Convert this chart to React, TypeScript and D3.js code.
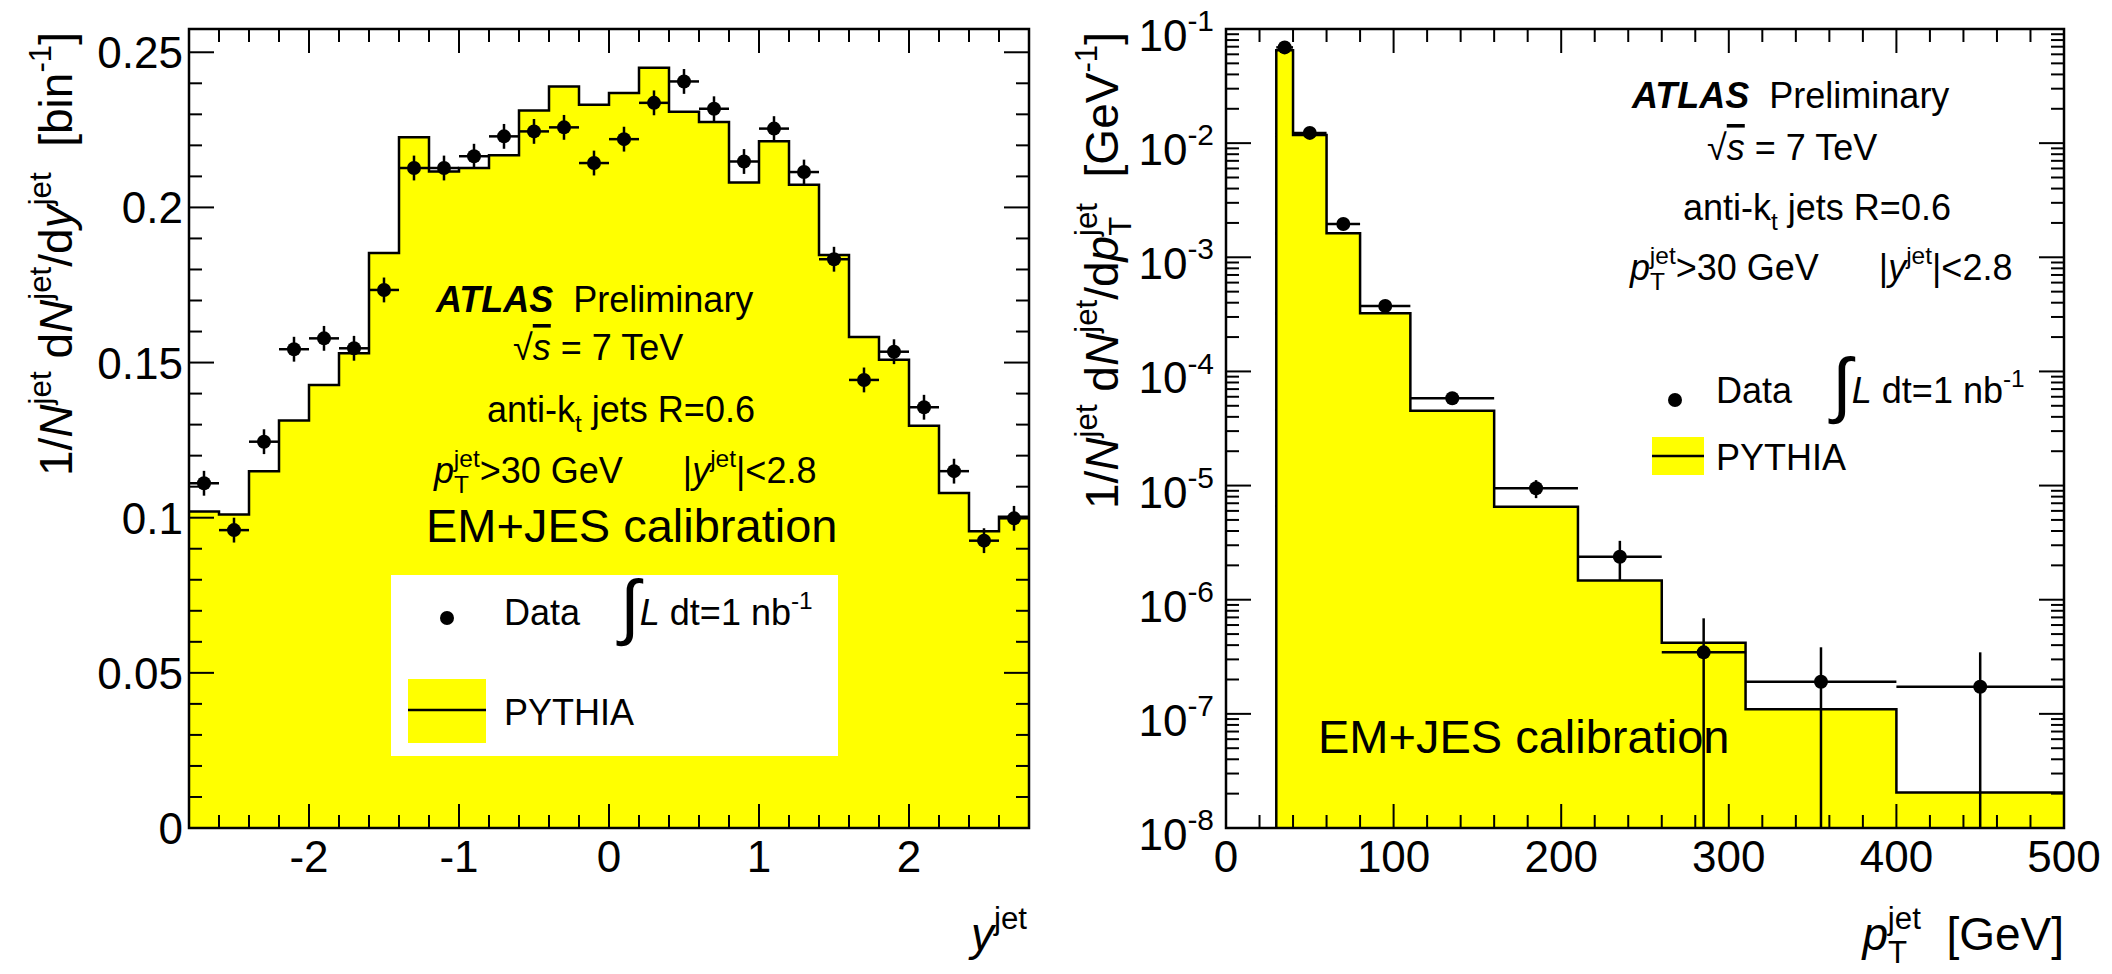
import React from "react";
import * as d3 from "d3";

// ---- left panel: rapidity distribution ----
const yEdges = [-2.8, -2.6, -2.4, -2.2, -2.0, -1.8, -1.6, -1.4, -1.2, -1.0, -0.8, -0.6, -0.4, -0.2, 0, 0.2, 0.4, 0.6, 0.8, 1.0, 1.2, 1.4, 1.6, 1.8, 2.0, 2.2, 2.4, 2.6, 2.8];
const yPythia = [0.102, 0.101, 0.115, 0.1313, 0.1428, 0.153, 0.1853, 0.2226, 0.2116, 0.2127, 0.2168, 0.2312, 0.239, 0.2331, 0.2369, 0.245, 0.2308, 0.2275, 0.208, 0.2213, 0.2073, 0.1847, 0.1582, 0.1509, 0.1296, 0.108, 0.0956, 0.1003];
const yData = [0.1111, 0.096, 0.1245, 0.1543, 0.1578, 0.1546, 0.1734, 0.2127, 0.2127, 0.2165, 0.2229, 0.2245, 0.2258, 0.2143, 0.222, 0.2337, 0.2406, 0.2318, 0.2148, 0.2254, 0.2114, 0.1833, 0.1444, 0.1535, 0.1356, 0.115, 0.0926, 0.0998];
const yDataErr = [0.004, 0.004, 0.004, 0.004, 0.004, 0.004, 0.004, 0.004, 0.004, 0.004, 0.004, 0.004, 0.004, 0.004, 0.004, 0.004, 0.004, 0.004, 0.004, 0.004, 0.004, 0.004, 0.004, 0.004, 0.004, 0.004, 0.004, 0.004];
const yDomain = [-2.8, 2.8];
const yValDomain = [0, 0.2575];

// ---- right panel: pT distribution ----
const ptEdges = [30, 40, 60, 80, 110, 160, 210, 260, 310, 400, 500];
const ptPythia = [0.065, 0.0118, 0.00162, 3.23e-4, 4.53e-5, 6.53e-6, 1.47e-6, 4.2e-7, 1.1e-7, 2.05e-8];
const ptData = [0.069, 0.0123, 0.00196, 3.74e-4, 5.82e-5, 9.46e-6, 2.38e-6, 3.46e-7, 1.91e-7, 1.73e-7];
const ptDataErr = [3e-4, 1e-4, 2e-5, 6e-6, 3e-6, 1.7e-6, 0.9e-6, 3.41e-7, 1.92e-7, 1.73e-7];
const ptDomain = [0, 500];
const ptValDomain = [1e-8, 1e-1];

const FONT = "'Liberation Sans', Arial, Helvetica, sans-serif";
const TOP = 29;
const BOTTOM = 828;
const YELLOW = "#ffff00";

type Seg = { t: string; k?: "sup" | "sub"; i?: boolean; b?: boolean; dx?: number; s?: number; off?: number; over?: boolean };

function Rich({ x, y, fs, segs, anchor = "start", rotate = false }: { x: number; y: number; fs: number; segs: Seg[]; anchor?: string; rotate?: boolean }) {
  let cur = 0;
  const spans = segs.map((sg, idx) => {
    const target = sg.k === "sup" ? -0.45 * fs : sg.k === "sub" ? 0.28 * fs : (sg.off ?? 0) * fs;
    const dy = target - cur;
    cur = target;
    const size = sg.k ? fs * 0.68 : fs * (sg.s ?? 1);
    return (
      <tspan
        key={idx}
        dy={dy}
        dx={sg.dx ? sg.dx * fs : undefined}
        fontSize={size}
        fontStyle={sg.i ? "italic" : "normal"}
        fontWeight={sg.b ? "bold" : "normal"}
        style={sg.over ? { textDecoration: "overline" } : undefined}
      >
        {sg.t}
      </tspan>
    );
  });
  return (
    <text
      x={x}
      y={y}
      fontSize={fs}
      fontFamily={FONT}
      textAnchor={anchor}
      fill="#000"
      style={{ whiteSpace: "pre" }}
      transform={rotate ? `rotate(-90 ${x} ${y})` : undefined}
    >
      {spans}
    </text>
  );
}

function Hist({ edges, vals, x, y, base, startFromBase }: any) {
  const pts: [number, number][] = vals.map((v: number, i: number) => [edges[i], v]);
  pts.push([edges[edges.length - 1], vals[vals.length - 1]]);
  const area = d3.area<[number, number]>()
    .x((d) => x(d[0]))
    .y0(y(base))
    .y1((d) => y(d[1]))
    .curve(d3.curveStepAfter);
  const linePts = startFromBase ? [[edges[0], base] as [number, number], ...pts] : pts;
  const line = d3.line<[number, number]>()
    .x((d) => x(d[0]))
    .y((d) => y(d[1]))
    .curve(d3.curveStepAfter);
  return (
    <g>
      <path d={area(pts) || ""} fill={YELLOW} stroke="none" />
      <path d={line(linePts) || ""} fill="none" stroke="#000" strokeWidth={2.5} />
    </g>
  );
}

function Points({ edges, vals, errs, x, y, floor }: any) {
  return (
    <g stroke="#000" strokeWidth={2.5}>
      {vals.map((v: number, i: number) => {
        const cx = x((edges[i] + edges[i + 1]) / 2);
        const lo = Math.max(v - errs[i], floor);
        return (
          <g key={i}>
            <line x1={x(edges[i])} x2={x(edges[i + 1])} y1={y(v)} y2={y(v)} />
            <line x1={cx} x2={cx} y1={y(lo)} y2={y(v + errs[i])} />
            <circle cx={cx} cy={y(v)} r={7} fill="#000" stroke="none" />
          </g>
        );
      })}
    </g>
  );
}

function Frame({ x, y, xMajor, xMinor, yMajor, yMinor }: any) {
  const [x0, x1] = x.range();
  const isMaj = (arr: number[], v: number) => arr.some((m) => Math.abs(m - v) <= 1e-6 * Math.max(1e-12, Math.abs(m)) || Math.abs(m - v) < 1e-12);
  return (
    <g stroke="#000">
      {xMinor.filter((v: number) => !isMaj(xMajor, v)).map((v: number, i: number) => (
        <g key={"xm" + i} strokeWidth={2}>
          <line x1={x(v)} x2={x(v)} y1={BOTTOM} y2={BOTTOM - 13} />
          <line x1={x(v)} x2={x(v)} y1={TOP} y2={TOP + 13} />
        </g>
      ))}
      {xMajor.map((v: number, i: number) => (
        <g key={"xM" + i} strokeWidth={2}>
          <line x1={x(v)} x2={x(v)} y1={BOTTOM} y2={BOTTOM - 24} />
          <line x1={x(v)} x2={x(v)} y1={TOP} y2={TOP + 24} />
        </g>
      ))}
      {yMinor.filter((v: number) => !isMaj(yMajor, v)).map((v: number, i: number) => (
        <g key={"ym" + i} strokeWidth={2}>
          <line x1={x0} x2={x0 + 13} y1={y(v)} y2={y(v)} />
          <line x1={x1} x2={x1 - 13} y1={y(v)} y2={y(v)} />
        </g>
      ))}
      {yMajor.map((v: number, i: number) => (
        <g key={"yM" + i} strokeWidth={2}>
          <line x1={x0} x2={x0 + 25} y1={y(v)} y2={y(v)} />
          <line x1={x1} x2={x1 - 25} y1={y(v)} y2={y(v)} />
        </g>
      ))}
      <rect x={x0} y={TOP} width={x1 - x0} height={BOTTOM - TOP} fill="none" strokeWidth={2.5} />
    </g>
  );
}

function Legend({ dotX, dotY, textX, dataBase, boxX, boxW, boxY, boxH, lineY, pyBase }: any) {
  return (
    <g>
      <circle cx={dotX} cy={dotY} r={7} fill="#000" />
      <Rich x={textX} y={dataBase} fs={36} segs={[
        { t: "Data    " },
        { t: "\u222B", s: 2.0, off: 0.16 },
        { t: "L", i: true, off: 0 },
        { t: " dt=1 nb" },
        { t: "-1", k: "sup" },
      ]} />
      <rect x={boxX} y={boxY} width={boxW} height={boxH} fill={YELLOW} />
      <line x1={boxX} x2={boxX + boxW} y1={lineY} y2={lineY} stroke="#000" strokeWidth={2.5} />
      <Rich x={textX} y={pyBase} fs={36} segs={[{ t: "PYTHIA" }]} />
    </g>
  );
}

function Labels({ x0, b }: { x0: number; b: number[] }) {
  return (
    <g>
      <Rich x={x0} y={b[0]} fs={36} segs={[{ t: "ATLAS", b: true, i: true }, { t: "  Preliminary" }]} />
      <Rich x={x0 + b[4]} y={b[1]} fs={36} segs={[{ t: "\u221A" }, { t: "s", i: true, over: true }, { t: " = 7 TeV" }]} />
      <Rich x={x0 + b[5]} y={b[2]} fs={36} segs={[{ t: "anti-k" }, { t: "t", k: "sub" }, { t: " jets R=0.6" }]} />
      <Rich x={x0 - 2} y={b[3]} fs={36} segs={[
        { t: "p", i: true },
        { t: "T", k: "sub" },
        { t: "jet", k: "sup", dx: -0.42 },
        { t: ">30 GeV      |" },
        { t: "y", i: true },
        { t: "jet", k: "sup" },
        { t: "|<2.8" },
      ]} />
    </g>
  );
}

const fmtTick = (v: number) => d3.format("~g")(v).replace("\u2212", "-");

export default function App() {
  const xL = d3.scaleLinear().domain(yDomain).range([189, 1029]);
  const yL = d3.scaleLinear().domain(yValDomain).range([BOTTOM, TOP]);
  const xR = d3.scaleLinear().domain(ptDomain).range([1226, 2064]);
  const yR = d3.scaleLog().domain(ptValDomain).range([BOTTOM, TOP]);

  const logTicks = yR.ticks();
  const logMajor = logTicks.filter((v) => Math.abs(Math.log10(v) - Math.round(Math.log10(v))) < 1e-9);

  return (
    <svg width={2112} height={974} style={{ position: "absolute", left: 0, top: 0, background: "#fff" }} fontFamily={FONT}>
      <rect x={0} y={0} width={2112} height={974} fill="#fff" />

      {/* left panel */}
      <Hist edges={yEdges} vals={yPythia} x={xL} y={yL} base={0} />
      <Frame x={xL} y={yL} xMajor={xL.ticks(5)} xMinor={xL.ticks(28)} yMajor={yL.ticks(5)} yMinor={yL.ticks(25)} />
      <Points edges={yEdges} vals={yData} errs={yDataErr} x={xL} y={yL} floor={0} />
      <rect x={391} y={575} width={447} height={181} fill="#fff" />
      <Legend dotX={447} dotY={618} textX={504} dataBase={625} boxX={408} boxW={78} boxY={679} boxH={64} lineY={710} pyBase={725} />
      <Labels x0={436} b={[312, 360, 422, 483, 77, 51]} />
      <Rich x={426} y={542} fs={47} segs={[{ t: "EM+JES calibration" }]} />
      {yL.ticks(5).map((v, i) => (
        <text key={"ly" + i} x={183} y={yL(v) + 16} fontSize={44} textAnchor="end" fontFamily={FONT}>{fmtTick(v)}</text>
      ))}
      {xL.ticks(5).map((v, i) => (
        <text key={"lx" + i} x={xL(v)} y={872} fontSize={44} textAnchor="middle" fontFamily={FONT}>{fmtTick(v)}</text>
      ))}
      <Rich x={72} y={32} fs={46} anchor="end" rotate segs={[
        { t: "1/" },
        { t: "N", i: true },
        { t: "jet", k: "sup" },
        { t: " d" },
        { t: "N", i: true },
        { t: "jet", k: "sup" },
        { t: "/d" },
        { t: "y", i: true },
        { t: "jet", k: "sup" },
        { t: "  [bin" },
        { t: "-1", k: "sup" },
        { t: "]" },
      ]} />
      <Rich x={1027} y={950} fs={46} anchor="end" segs={[{ t: "y", i: true }, { t: "jet", k: "sup" }]} />

      {/* right panel */}
      <Hist edges={ptEdges} vals={ptPythia} x={xR} y={yR} base={1e-8} startFromBase />
      <Frame x={xR} y={yR} xMajor={xR.ticks(5)} xMinor={xR.ticks(25)} yMajor={logMajor} yMinor={logTicks} />
      <Points edges={ptEdges} vals={ptData} errs={ptDataErr} x={xR} y={yR} floor={1e-8} />
      <Legend dotX={1675} dotY={400} textX={1716} dataBase={403} boxX={1652} boxW={52} boxY={437} boxH={38} lineY={456} pyBase={470} />
      <Labels x0={1632} b={[108, 160, 220, 280, 75, 51]} />
      <Rich x={1318} y={753} fs={47} segs={[{ t: "EM+JES calibration" }]} />
      {logMajor.map((v, i) => (
        <Rich key={"ry" + i} x={1214} y={yR(v) + 22} fs={44} anchor="end" segs={[{ t: "10" }, { t: String(Math.round(Math.log10(v))), k: "sup" }]} />
      ))}
      {xR.ticks(5).map((v, i) => (
        <text key={"rx" + i} x={xR(v)} y={872} fontSize={44} textAnchor="middle" fontFamily={FONT}>{fmtTick(v)}</text>
      ))}
      <Rich x={1118} y={32} fs={46} anchor="end" rotate segs={[
        { t: "1/" },
        { t: "N", i: true },
        { t: "jet", k: "sup" },
        { t: " d" },
        { t: "N", i: true },
        { t: "jet", k: "sup" },
        { t: "/d" },
        { t: "p", i: true },
        { t: "T", k: "sub" },
        { t: "jet", k: "sup", dx: -0.42 },
        { t: "  [GeV" },
        { t: "-1", k: "sup" },
        { t: "]" },
      ]} />
      <Rich x={2064} y={950} fs={46} anchor="end" segs={[
        { t: "p", i: true },
        { t: "T", k: "sub" },
        { t: "jet", k: "sup", dx: -0.42 },
        { t: "  [GeV]" },
      ]} />
    </svg>
  );
}
